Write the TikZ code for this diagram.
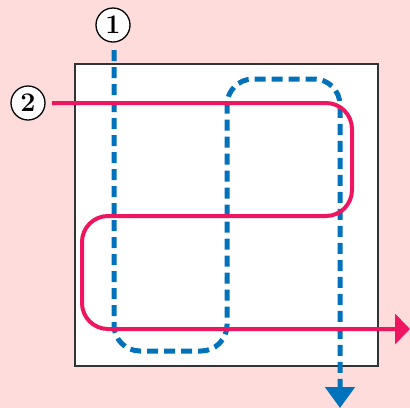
\documentclass[tikz,border=0pt]{standalone}
\usepackage{fontspec}
\usetikzlibrary{arrows.meta}
\definecolor{bgpink}{HTML}{FFDCDC}
\definecolor{linepink}{HTML}{EE1660}
\definecolor{lineblue}{HTML}{0072BC}

\begin{document}
\begin{tikzpicture}[x=1bp, y=-1bp,
    num/.style={draw, circle, fill=white, line width=1.3bp, inner sep=0bp,
                minimum size=34bp, font=\fontsize{27}{27}\selectfont\bfseries}]
            \useasboundingbox (0,0) rectangle (410,408);
            \fill[bgpink] (0,0) rectangle (410,408);
            \draw[fill=white, draw=black!80, line width=1.2bp] (75,64) rectangle (378,366);
            \node[num] (one) at (113,25) {1};
            \node[num] (two) at (28,103) {2};
            \coordinate (bstart) at (114,50);
            \coordinate (bend) at (340,408);
            \coordinate (pstart) at (52,103);
            \coordinate (pend) at (410,329);
            % first route, dashed
            \draw[lineblue, line width=5bp, dash pattern=on 11bp off 6bp, rounded corners=26bp,
                  -{Triangle[length=21bp, width=29bp]}]
                (bstart) -- (114,351) -- (227,351) -- (227,79) -- (340,79) -- (bend);
            % second route
            \draw[linepink, line width=4bp, rounded corners=26bp,
                  -{Triangle[length=15bp, width=30bp]}]
                (pstart) -- (352,103) -- (352,216) -- (82,216) -- (82,329) -- (pend);
        \end{tikzpicture}
\end{document}
